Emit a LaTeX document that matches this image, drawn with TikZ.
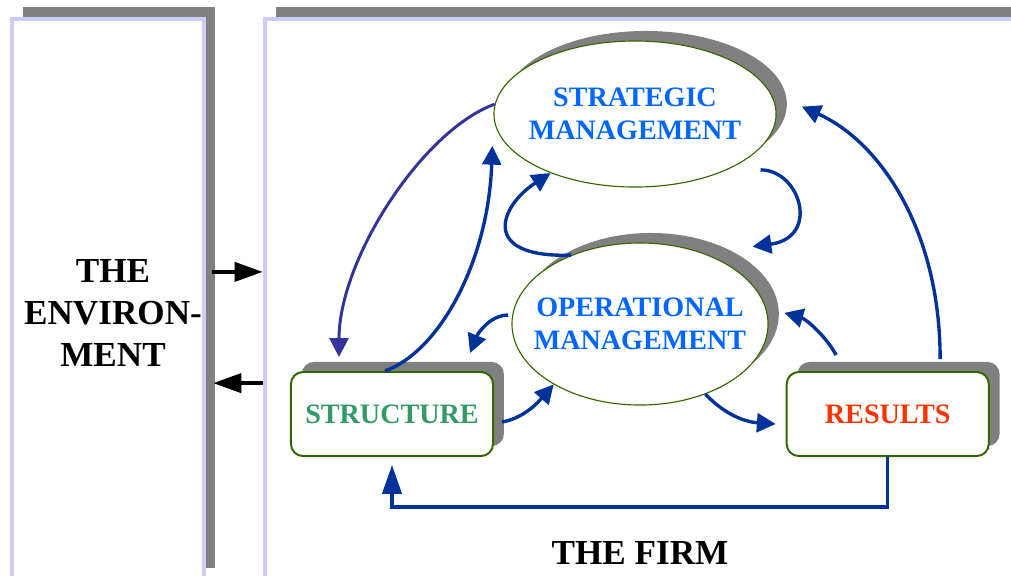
\documentclass[tikz,border=0pt]{standalone}
\usepackage{fontspec}
\setmainfont{Liberation Serif}
\usetikzlibrary{shapes.geometric, arrows.meta, shadows, positioning}
\definecolor{lavender}{HTML}{CCCCFF}
\definecolor{linkblue}{HTML}{003399}
\definecolor{linkpurple}{HTML}{333399}
\definecolor{textblue}{HTML}{0066FF}
\definecolor{textgreen}{HTML}{339966}
\definecolor{textred}{HTML}{FF3300}
\definecolor{rimgreen}{HTML}{336600}
\tikzstyle{panel} = [draw=lavender, line width=3.2pt, fill=white, minimum height=14.025cm, drop shadow={shadow xshift=0.27cm, shadow yshift=0.3cm, opacity=1, fill=gray}]
\tikzstyle{manager} = [ellipse, draw=rimgreen, line width=0.8pt, fill=white, inner xsep=-1cm, inner ysep=0pt, align=center, text=textblue, font=\fontsize{20}{23.5}\selectfont\bfseries, drop shadow={shadow xshift=0.27cm, shadow yshift=0.25cm, opacity=1, fill=gray}]
\tikzstyle{unit} = [rectangle, rounded corners=0.3cm, draw=rimgreen, line width=1.4pt, fill=white, minimum width=5.05cm, minimum height=2.1cm, font=\fontsize{20}{24}\selectfont\bfseries, drop shadow={shadow xshift=0.27cm, shadow yshift=0.25cm, opacity=1, fill=gray}]
\tikzstyle{title} = [align=center, font=\fontsize{25}{30}\selectfont\bfseries]
\tikzstyle{arrow} = [-{Triangle[length=0.47cm, width=0.47cm]}, line width=2.4pt, linkblue]
\tikzstyle{exchange} = [-{Triangle[length=0.7cm, width=0.48cm]}, line width=2.4pt, black]
\begin{document}
\begin{tikzpicture}[x=0.025cm, y=-0.025cm, node distance=12.39cm]
				\useasboundingbox (0,0) rectangle (1011,575);
				\node (envbox)[panel, minimum width=4.8cm] at (108,299.5){};
				\node (firmbox)[panel, minimum width=19.125cm] at (647.5,299.5){};
				\node (environment)[title] at (113,313){THE\\ENVIRON-\\MENT};
				\node (firm)[title] at (640,553){THE FIRM};
				\node (strategic)[manager, minimum width=7.05cm, minimum height=3.65cm] at (635,114){STRATEGIC\\MANAGEMENT};
				\node (operational)[manager, minimum width=6.4cm, minimum height=4.05cm] at (640,324){OPERATIONAL\\MANAGEMENT};
				\node (structure)[unit, text=textgreen] at (392,414){STRUCTURE};
				\node (results)[unit, text=textred, right of=structure]{RESULTS};
				
				\draw [exchange] ([xshift=0.15cm, yshift=0.69cm]envbox.east) -- ([yshift=0.69cm]firmbox.west);
				\draw [exchange] ([yshift=-2.09cm]firmbox.west) -- ([xshift=0.175cm, yshift=-2.09cm]envbox.east);
				
				\draw [arrow, linkpurple, line width=2.1pt] (strategic.176) .. controls +(-72,26) and +(0,-98) .. ([xshift=-1.325cm, yshift=0.35cm]structure.north);
				\draw [arrow] ([xshift=-0.175cm]structure.north) .. controls +(55,-20) and +(-4,115) .. ([xshift=-0.375cm]strategic.194);
				\draw [arrow] (operational.135) .. controls +(-92,3) and +(-51,33) .. (strategic.215);
				\draw [arrow] ([xshift=0.45cm, yshift=-0.2cm]strategic.-24) .. controls +(40,0) and +(68,-9) .. ([xshift=0.61cm, yshift=0.45cm]operational.34);
				\draw [arrow] ([xshift=-0.1cm]operational.176) .. controls +(-18,0) and +(8,-20) .. ([xshift=-0.6cm, yshift=0.45cm]structure.north east);
				\draw [arrow] ([xshift=0.2cm, yshift=-0.2cm]structure.east) .. controls +(23,-4) and +(-14,16) .. (operational.215);
				\draw [arrow] (operational.-47) .. controls +(20,21) and +(-30,-2) .. ([xshift=-0.25cm, yshift=-0.25cm]results.west);
				\draw [arrow] ([xshift=-1.29cm, yshift=0.4cm]results.north) .. controls +(-11,-20) and +(21,6) .. ([xshift=0.425cm]operational.5);
				\draw [arrow] ([xshift=1.31cm, yshift=0.3cm]results.north) .. controls +(0,-129) and +(78,35) .. ([xshift=0.65cm]strategic.3);
				\draw [arrow, -{Triangle[length=0.72cm, width=0.48cm]}] (results.south) -- ++(0,50) -| ([yshift=-0.2cm]structure.south);
			\end{tikzpicture}
\end{document}
